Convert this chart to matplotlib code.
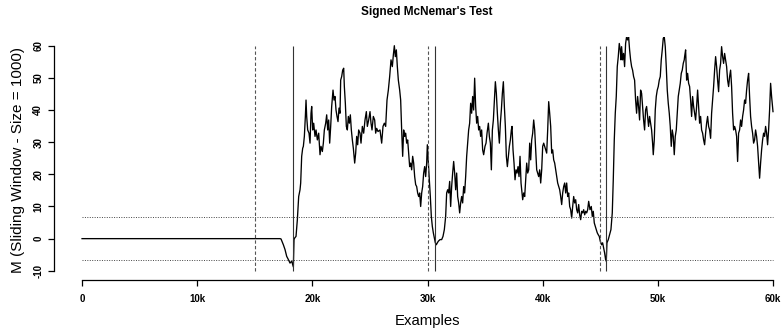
import matplotlib
matplotlib.use("Agg")
import matplotlib.pyplot as plt
import numpy as np

plt.rcParams['font.family'] = ['Liberation Sans', 'DejaVu Sans']

# ---- data (examples, M statistic) ----
ex_flat = [0, 17192]
m_flat = [0, 0]

ex_a = [17279, 17482, 17626, 17771, 17916, 18060, 18205, 18292, 18350, 18408, 18466, 18581,
        18697, 18813, 18929, 18986, 19073, 19160, 19218, 19305, 19392, 19450, 19507, 19594,
        19710, 19797, 19884, 19942, 20028, 20115, 20231, 20318, 20433, 20549, 20665, 20752,
        20868, 20954, 21041, 21157, 21244, 21331, 21417, 21504, 21591, 21678, 21794, 21880,
        21967, 22054, 22141, 22228, 22315, 22401, 22459, 22546, 22633, 22720, 22778, 22864,
        22951, 23038, 23125, 23212, 23298, 23385, 23472, 23559, 23675, 23762, 23848, 23935,
        24022, 24138, 24225, 24340, 24456, 24572, 24688, 24774, 24890, 25006, 25093, 25180,
        25295, 25411, 25498, 25585, 25701, 25874]
m_a = [-0.1, -1.9, -3.4, -5.5, -6.5, -7.6, -7.0, -8.1, -8.8, -0.3, 0.2, 0.7,
       5.9, 13.1, 15.2, 17.3, 25.6, 28.1, 28.7, 31.8, 38.0, 43.1, 38.0, 33.8,
       32.8, 29.7, 39.0, 41.1, 33.8, 35.9, 31.8, 33.8, 30.7, 32.8, 26.1, 28.7,
       27.1, 29.7, 33.8, 35.9, 38.5, 33.8, 36.9, 29.7, 34.9, 41.1, 46.2, 43.1,
       44.2, 40.0, 38.0, 36.4, 40.6, 39.0, 49.3, 50.4, 52.4, 53.0, 47.3, 42.1,
       34.9, 33.8, 38.0, 35.9, 38.5, 33.8, 30.7, 28.1, 23.5, 26.6, 31.8, 29.2,
       33.8, 32.8, 29.7, 34.9, 32.8, 36.9, 39.5, 34.9, 36.9, 39.5, 35.9, 33.8,
       38.0, 36.9, 32.8, 34.3, 33.3, 33.8]

ex_b = [26019, 26135, 26250, 26366, 26482, 26598, 26713, 26829, 26945, 27032, 27119, 27205,
        27292, 27379, 27466, 27582, 27668, 27755, 27842, 27929, 28016, 28102, 28189, 28276,
        28363, 28450, 28537, 28623, 28710, 28797, 28884, 28971, 29058, 29144, 29231, 29318,
        29405, 29492, 29578, 29665, 29752, 29839, 29926, 29984, 30070, 30157, 30244, 30331,
        30418, 30505, 30591, 30678, 30765, 30852, 30939, 31083, 31228, 31344, 31460, 31575,
        31662, 31749, 31836, 31923, 32009, 32096, 32183, 32270, 32357, 32443, 32530, 32617,
        32704, 32791, 32878, 32964, 33051, 33138, 33225, 33312, 33399, 33485, 33572, 33659,
        33746, 33833, 33919, 34006, 34093, 34180, 34267, 34353, 34440, 34527, 34614, 34701,
        34788, 34874, 34990]
m_b = [29.7, 34.9, 35.9, 34.9, 43.1, 46.2, 50.4, 55.6, 53.5, 57.1, 60.0, 56.6,
       58.7, 53.5, 49.3, 46.2, 43.1, 33.8, 25.6, 33.8, 31.8, 32.8, 29.7, 30.7,
       26.6, 22.4, 23.5, 21.4, 25.6, 23.5, 19.3, 16.8, 16.2, 14.2, 13.1, 14.2,
       10.0, 14.2, 16.2, 20.4, 22.4, 19.3, 23.5, 29.2, 23.5, 18.3, 13.1, 6.9,
       3.8, 1.8, 0.2, -1.3, -1.9, -1.3, -0.8, -0.3, -0.3, 0.7, 2.8, 6.9,
       14.2, 15.2, 14.2, 17.8, 10.0, 16.2, 20.4, 24.0, 20.4, 15.2, 20.4, 13.1,
       11.1, 8.0, 11.1, 13.1, 11.1, 16.2, 14.2, 19.3, 25.6, 29.7, 33.8, 35.9,
       42.1, 39.0, 44.2, 40.0, 49.9, 41.1, 35.9, 38.0, 33.8, 34.9, 31.8, 33.8,
       27.6, 26.1, 28.7]

ex_c = [35081, 35168, 35284, 35370, 35457, 35544, 35631, 35718, 35804, 35891, 35978, 36065,
        36152, 36239, 36325, 36412, 36499, 36586, 36673, 36759, 36846, 36933, 37020, 37107,
        37194, 37280, 37338, 37425, 37512, 37599, 37686, 37772, 37859, 37946, 38033, 38120,
        38206, 38264, 38351, 38438, 38525, 38612, 38698, 38785, 38872, 38959, 39046, 39133,
        39219, 39306, 39393, 39480, 39567, 39653, 39740, 39827, 39914, 40001, 40088, 40174,
        40261, 40348, 40435, 40522, 40608, 40695, 40782, 40869, 40956, 41043, 41129, 41216,
        41303, 41390, 41477, 41563, 41650, 41737, 41824, 41911, 41997, 42084, 42171, 42258,
        42345, 42432, 42518, 42605, 42692, 42779, 42866, 42953, 43039, 43126, 43213, 43300,
        43387, 43473, 43560, 43647, 43734, 43821, 43907, 43994, 44110]
m_c = [29.7, 32.8, 35.9, 31.8, 29.7, 21.4, 33.8, 36.9, 43.1, 48.8, 45.2, 39.0,
       33.8, 29.7, 35.9, 40.0, 45.2, 48.8, 41.1, 34.9, 25.6, 22.4, 25.6, 28.7,
       30.7, 33.8, 34.9, 27.6, 23.5, 18.3, 21.4, 20.4, 22.4, 19.3, 25.6, 17.3,
       14.2, 12.1, 14.2, 13.1, 18.3, 23.5, 20.4, 21.4, 29.7, 24.5, 30.7, 32.8,
       36.9, 33.8, 27.6, 21.4, 20.4, 19.3, 21.4, 17.3, 21.4, 28.7, 29.7, 28.7,
       27.6, 26.6, 33.8, 42.6, 39.0, 34.9, 26.6, 27.6, 24.5, 23.5, 21.4, 19.3,
       17.3, 16.2, 15.2, 13.1, 10.6, 14.2, 16.2, 17.3, 14.2, 17.3, 13.1, 14.2,
       10.0, 9.0, 6.4, 10.0, 13.1, 11.1, 12.1, 9.0, 8.0, 10.6, 7.4, 5.9,
       8.5, 8.0, 9.0, 7.4, 8.5, 8.0, 9.0, 11.6, 9.0]

ex_d = [44220, 44307, 44394, 44480, 44567, 44654, 44741, 44828, 44914, 45001, 45117, 45204,
        45291, 45377, 45464, 45522, 45580, 45696, 45812, 45927, 46043, 46130, 46217, 46304,
        46390, 46477, 46564, 46651, 46738, 46796, 46853, 46940, 47027, 47114, 47201, 47288,
        47374, 47461, 47548, 47635, 47722, 47808, 47895, 47982, 48069, 48156, 48243, 48329,
        48416, 48503, 48590, 48677, 48763, 48850, 48937, 49024, 49111, 49197, 49284, 49371,
        49458, 49545, 49603, 49690, 49776, 49863, 49950, 50037, 50124, 50211, 50297, 50384,
        50471, 50558, 50645, 50731, 50818, 50905, 50992, 51079, 51165, 51252, 51339, 51426,
        51513, 51600, 51686, 51773, 51860, 51947, 52034, 52120, 52207, 52294]
m_d = [10.0, 6.9, 8.5, 4.9, 3.8, 2.8, 1.8, 1.2, 0.7, -0.8, -1.9, -1.3,
       -2.9, -4.4, -6.5, -7.0, -1.3, -0.3, 1.2, 2.8, 8.0, 18.3, 30.7, 39.0,
       44.2, 53.5, 56.6, 60.7, 58.7, 55.6, 59.7, 55.6, 57.6, 53.5, 60.7, 62.8,
       61.8, 62.8, 58.7, 55.6, 53.5, 52.4, 50.4, 49.3, 43.1, 39.0, 44.2, 41.1,
       36.9, 46.2, 45.2, 41.1, 36.9, 33.8, 40.0, 41.1, 38.0, 34.9, 38.0, 35.9,
       33.8, 29.7, 26.1, 30.7, 40.0, 44.2, 46.2, 47.3, 49.3, 50.4, 55.6, 58.7,
       62.3, 62.8, 59.7, 53.5, 46.2, 42.1, 39.0, 34.9, 28.7, 33.8, 31.8, 26.1,
       31.8, 33.8, 39.0, 44.2, 46.2, 48.3, 51.4, 52.4, 54.5, 55.6]

ex_e = [52325, 52412, 52499, 52586, 52672, 52759, 52846, 52933, 53020, 53107, 53193, 53280,
        53367, 53454, 53541, 53627, 53714, 53801, 53888, 53975, 54062, 54148, 54235, 54322,
        54409, 54496, 54582, 54669, 54756, 54843, 54930, 55017, 55103, 55190, 55277, 55364,
        55451, 55537, 55624, 55711, 55798, 55885, 55972, 56058, 56145, 56232, 56319, 56406,
        56492, 56579, 56666, 56753, 56840, 56927, 57013, 57100, 57187, 57274, 57361, 57447,
        57534, 57621, 57708, 57795, 57882, 57968, 58055, 58142, 58229, 58316, 58402, 58489,
        58576, 58663, 58750, 58837, 58923, 59010, 59097, 59184, 59271, 59357, 59444, 59531,
        59618, 59705, 59792, 59878, 60000]
m_e = [56.6, 58.7, 49.3, 51.4, 48.3, 47.3, 43.1, 38.0, 44.2, 41.1, 39.0, 36.9,
       41.1, 46.2, 41.1, 35.9, 38.0, 33.8, 32.8, 30.7, 29.2, 32.8, 35.9, 38.0,
       34.9, 33.8, 31.2, 39.0, 43.1, 47.3, 52.4, 56.6, 53.5, 49.3, 45.7, 52.4,
       54.5, 59.7, 56.6, 54.5, 57.6, 55.6, 53.5, 49.3, 47.3, 50.4, 52.4, 47.3,
       39.0, 33.8, 34.9, 33.8, 31.8, 24.0, 32.8, 33.8, 36.9, 34.9, 38.0, 40.0,
       43.1, 42.1, 46.2, 49.3, 51.4, 44.2, 38.0, 34.9, 32.8, 29.7, 30.7, 33.8,
       31.8, 28.7, 23.5, 18.8, 23.5, 27.6, 30.7, 32.8, 31.8, 34.9, 32.8, 29.2,
       33.8, 40.0, 48.3, 44.2, 39.5]

warning_points = [15000, 30000, 45000]
drift_points = [18350, 30680, 45470]
threshold = 6.6

x_ticks = [0, 10000, 20000, 30000, 40000, 50000, 60000]
x_ticklabels = ['0', '10k', '20k', '30k', '40k', '50k', '60k']
y_ticks = [-10, 0, 10, 20, 30, 40, 50, 60]

examples = np.array(ex_flat + ex_a + ex_b + ex_c + ex_d + ex_e)
m_values = np.array(m_flat + m_a + m_b + m_c + m_d + m_e)

# ---- figure ----
W, H = 781, 328
fig = plt.figure(figsize=(W / 100, H / 100), dpi=100)
ax = fig.add_axes([54.4 / W, 1 - 279.8 / H, 727.2 / W, (279.8 - 36.7) / H])
ax.set_xlim(-2400, 60747)
ax.set_ylim(-12.8, 62.8)

ax.plot(examples, m_values, color='black', lw=0.95, solid_joinstyle='round')

ax.hlines([threshold, -threshold], 0, 60000, colors='#444444', linestyles=(0, (1, 1.5)), lw=0.7)
ax.vlines(warning_points, -10, 60, colors='#555555', linestyles=(0, (3, 2)), lw=0.8)
ax.vlines(drift_points, -10, 60, colors='#333333', linestyles='solid', lw=0.8)

for s in ['top', 'right']:
    ax.spines[s].set_visible(False)
ax.spines['bottom'].set_bounds(0, 60000)
ax.spines['left'].set_bounds(-10, 60)
for s in ['bottom', 'left']:
    ax.spines[s].set_linewidth(0.9)

ax.set_xticks(x_ticks)
ax.set_xticklabels(x_ticklabels, fontsize=7, fontweight='bold')
ax.set_yticks(y_ticks)
ax.set_yticklabels([str(v) for v in y_ticks], fontsize=7, fontweight='bold',
                   rotation=90, va='center')
ax.tick_params(axis='x', length=4.5, width=0.9, pad=6)
ax.tick_params(axis='y', length=4.5, width=0.9, pad=3.5)

fig.text(427 / W, 1 - 12 / H, "Signed McNemar's Test", ha='center', va='center',
         fontsize=8.5, fontweight='bold')
fig.text(427 / W, 1 - 321 / H, "Examples", ha='center', va='center', fontsize=10.7)
fig.text(18 / W, 1 - 160 / H, "M (Sliding Window - Size = 1000)", ha='center', va='center',
         rotation=90, fontsize=11)

fig.savefig('out.png', dpi=100)
